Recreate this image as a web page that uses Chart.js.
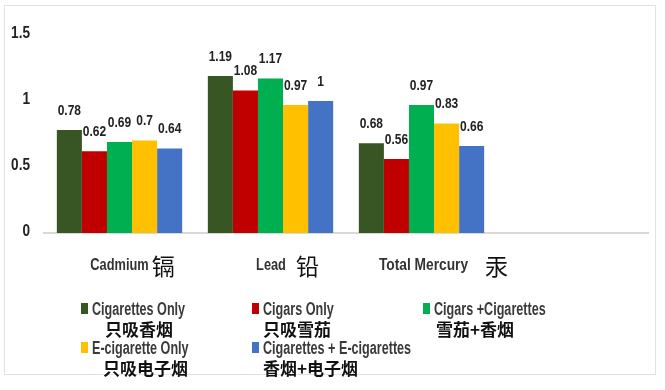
<!DOCTYPE html>
<html>
<head>
<meta charset="utf-8">
<script src="https://cdn.jsdelivr.net/npm/chart.js@4/dist/chart.umd.min.js"></script>
<style>
  body { margin: 0; background: #fff; }
  #wrap { position: relative; width: 665px; height: 390px; }
  #frame { position: absolute; left: 4px; top: 5px; width: 652px; height: 370px; border: 1px solid #e2e2e2; box-sizing: border-box; }
  .sw { position: absolute; width: 7px; height: 11px; }
  .en { position: absolute; font-family: "Liberation Sans", Arial, sans-serif; font-weight: bold; font-size: 18px; color: #3a3a3a; white-space: nowrap; line-height: 20px; transform: scaleX(0.7); transform-origin: left center; }
  .zh { position: absolute; font-family: "Noto Sans CJK SC", sans-serif; font-weight: bold; font-size: 17px; color: #111; white-space: nowrap; line-height: 20px; }
</style>
</head>
<body>
<div id="wrap">
  <div id="frame"></div>
  <canvas id="chart"></canvas>
  <div id="legend"></div>
</div>
<script>
const categoriesEn = ['Cadmium', 'Lead', 'Total Mercury', ''];
const categoriesZh = ['镉', '铅', '汞', ''];
const seriesEn = ['Cigarettes Only', 'Cigars Only', 'Cigars +Cigarettes', 'E-cigarette Only', 'Cigarettes + E-cigarettes'];
const seriesZh = ['只吸香烟', '只吸雪茄', '雪茄+香烟', '只吸电子烟', '香烟+电子烟'];
const colors = ['#375623', '#c00000', '#00b050', '#ffc000', '#4472c4'];

const cigarettesOnly = [0.78, 1.19, 0.68, null];
const cigarsOnly = [0.62, 1.08, 0.56, null];
const cigarsCigarettes = [0.69, 1.17, 0.97, null];
const eCigaretteOnly = [0.7, 0.97, 0.83, null];
const cigarettesECigarettes = [0.64, 1, 0.66, null];

const yTicks = [0, 0.5, 1, 1.5];

const seriesValues = [cigarettesOnly, cigarsOnly, cigarsCigarettes, eCigaretteOnly, cigarettesECigarettes];

const NARROW = 0.8;

// draw text squeezed horizontally, looks like a narrow font
function narrowText(ctx, text, x, y, align, sx) {
    const k = sx || NARROW;
    const w = ctx.measureText(text).width * k;
    let left = x;
    if (align === 'center') left = x - w / 2;
    if (align === 'right') left = x - w;
    ctx.save();
    ctx.textAlign = 'left';
    ctx.translate(left, y);
    ctx.scale(k, 1);
    ctx.fillText(text, 0, 0);
    ctx.restore();
    return w;
}

// value labels above each bar
const valueLabels = {
    id: 'valueLabels',
    afterDatasetsDraw(chart) {
        const ctx = chart.ctx;
        ctx.save();
        ctx.font = 'bold 15px "Liberation Sans", Arial, sans-serif';
        ctx.fillStyle = '#222';
        ctx.textBaseline = 'bottom';
        chart.data.datasets.forEach(function(ds, i) {
            chart.getDatasetMeta(i).data.forEach(function(bar, j) {
                if (ds.data[j] == null) return;
                narrowText(ctx, String(ds.data[j]), bar.x, bar.y - 12, 'center');
            });
        });
        ctx.restore();
    }
};

// y tick labels, narrow bold
const yLabels = {
    id: 'yLabels',
    afterDraw(chart) {
        const ctx = chart.ctx;
        const ys = chart.scales.y;
        ctx.save();
        ctx.font = 'bold 17px "Liberation Sans", Arial, sans-serif';
        ctx.fillStyle = '#222';
        ctx.textBaseline = 'middle';
        ys.ticks.forEach(function(t) {
            narrowText(ctx, String(t.value), chart.chartArea.left - 14, ys.getPixelForValue(t.value) - 2, 'right');
        });
        ctx.restore();
    }
};

// category labels: english + bigger chinese char
const catGaps = [3, 10, 17];
const catScale = [0.8, 0.8, 0.86];
const catShift = [13, 17, 22];
const catLabels = {
    id: 'catLabels',
    afterDraw(chart) {
        const ctx = chart.ctx;
        const xs = chart.scales.x;
        const y = chart.chartArea.bottom + 33;
        const fEn = 'bold 16px "Liberation Sans", Arial, sans-serif';
        const fZh = '23px "Noto Sans CJK SC", sans-serif';
        ctx.save();
        ctx.textBaseline = 'middle';
        categoriesEn.forEach(function(en, i) {
            if (!en) return;
            const gap = catGaps[i];
            ctx.font = fEn;
            const wEn = ctx.measureText(en).width * catScale[i];
            ctx.font = fZh;
            const wZh = ctx.measureText(categoriesZh[i]).width;
            const x = xs.getPixelForValue(i) + catShift[i] - (wEn + gap + wZh) / 2;
            ctx.font = fEn;
            ctx.fillStyle = '#333';
            narrowText(ctx, en, x, y, 'left', catScale[i]);
            ctx.font = fZh;
            ctx.fillStyle = '#111';
            ctx.textAlign = 'left';
            ctx.fillText(categoriesZh[i], x + wEn + gap, y);
        });
        ctx.restore();
    }
};

new Chart(document.getElementById('chart'), {
    type: 'bar',
    data: {
        labels: categoriesEn,
        datasets: seriesValues.map(function(vals, i) {
            return {
                label: seriesEn[i],
                data: vals,
                backgroundColor: colors[i],
                categoryPercentage: 0.83,
                barPercentage: 1.0
            };
        })
    },
    options: {
        responsive: true,
        maintainAspectRatio: false,
        animation: false,
        layout: { padding: { top: 35, left: 8, right: 17, bottom: 149 } },
        plugins: {
            legend: { display: false },
            tooltip: { enabled: false }
        },
        scales: {
            x: {
                grid: { display: false },
                border: { color: '#d9d9d9', width: 2 },
                ticks: { display: false }
            },
            y: {
                min: 0,
                max: 1.5,
                afterBuildTicks(axis) {
                    axis.ticks = yTicks.map(function(v) { return { value: v }; });
                },
                afterFit(axis) { axis.width = 36; },
                grid: { display: false },
                border: { display: false },
                ticks: { display: false }
            }
        }
    },
    plugins: [valueLabels, yLabels, catLabels]
});

// legend in html, two lines per entry
const legendPos = [
    { sw: [81, 303], en: [92, 299], zh: [105, 319] },
    { sw: [252, 303], en: [263, 299], zh: [263, 319] },
    { sw: [423, 303], en: [434, 299], zh: [436, 319] },
    { sw: [81, 342], en: [92, 338], zh: [103, 358] },
    { sw: [252, 342], en: [263, 338], zh: [263, 358] }
];
const legend = document.getElementById('legend');
seriesEn.forEach(function(name, i) {
    const p = legendPos[i];
    const sw = document.createElement('div');
    sw.className = 'sw';
    sw.style.left = p.sw[0] + 'px';
    sw.style.top = p.sw[1] + 'px';
    sw.style.background = colors[i];
    const en = document.createElement('div');
    en.className = 'en';
    en.style.left = p.en[0] + 'px';
    en.style.top = p.en[1] + 'px';
    en.textContent = name;
    const zh = document.createElement('div');
    zh.className = 'zh';
    zh.style.left = p.zh[0] + 'px';
    zh.style.top = p.zh[1] + 'px';
    zh.textContent = seriesZh[i];
    legend.appendChild(sw);
    legend.appendChild(en);
    legend.appendChild(zh);
});
</script>
</body>
</html>
